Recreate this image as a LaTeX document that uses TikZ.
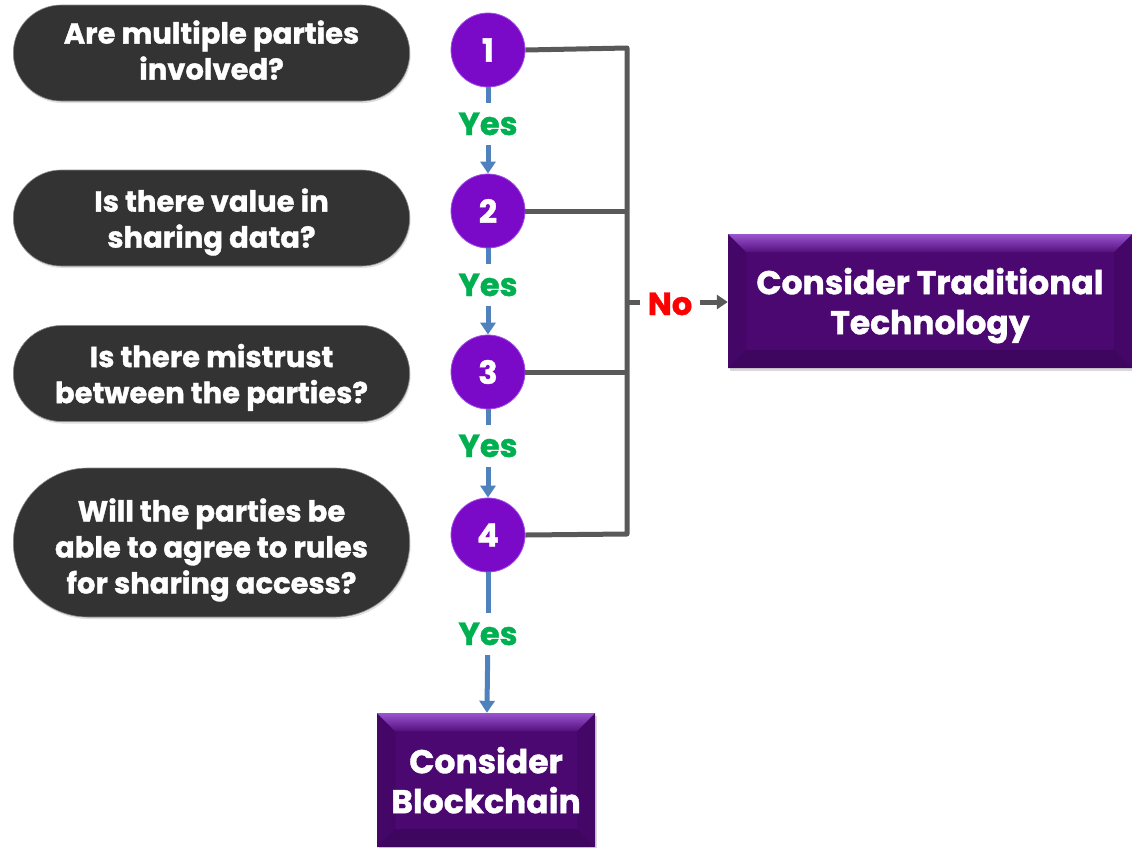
\documentclass[tikz,border=0pt]{standalone}
\usepackage{fontspec}
\setmainfont{Poppins}[BoldFeatures={FakeBold=1.2}]
\usetikzlibrary{arrows.meta,shapes.misc,shadows}
\definecolor{pillgray}{HTML}{333333}
\definecolor{pilledge}{HTML}{8A8A8A}
\definecolor{numpurple}{HTML}{7A0AC8}
\definecolor{numedge}{HTML}{A04DE6}
\definecolor{boxpurple}{HTML}{4A0870}
\definecolor{bevtop}{HTML}{9A55D0}
\definecolor{bevmid}{HTML}{55107E}
\definecolor{bevside}{HTML}{440667}
\definecolor{arrowblue}{HTML}{4F81BD}
\definecolor{linkgray}{HTML}{595959}
\definecolor{yesgreen}{HTML}{00B050}
\definecolor{nored}{HTML}{FF0000}
\begin{document}
\begin{tikzpicture}[x=1pt,y=-1pt,
  pill/.style={rounded rectangle, fill=pillgray, draw=pilledge, line width=0.6pt,
    text=white, minimum width=403pt, minimum height=#1, align=center,
    font=\bfseries\fontsize{29}{36}\selectfont, text depth=0pt,
    drop shadow={shadow xshift=1pt,shadow yshift=-2pt,opacity=0.25}},
  pill/.default=96pt,
  num/.style={circle, minimum size=74pt, inner sep=0pt, fill=numpurple, draw=numedge,
    line width=0.8pt, text=white, font=\bfseries\fontsize{32}{32}\selectfont},
  yes/.style={text=yesgreen, font=\bfseries\fontsize{32}{32}\selectfont,
    text height=22pt, text depth=0pt, inner ysep=10pt, inner xsep=2pt},
  blueline/.style={draw=arrowblue, line width=5pt},
  bluearrow/.style={blueline, -{Triangle[width=15pt,length=12pt]}},
  graylink/.style={draw=linkgray, line width=5pt},
  grayarrow/.style={graylink, -{Triangle[width=14pt,length=11pt]}},
  bevelbox/.style={rectangle, fill=boxpurple, text=white, align=center,
    font=\bfseries\fontsize{33}{40}\selectfont, text depth=0pt,
    drop shadow={shadow xshift=2pt,shadow yshift=-3pt,opacity=0.3},
    path picture={
      \fill[bevside] (path picture bounding box.north west) -- (path picture bounding box.south west)
        -- ([shift={(18pt,18pt)}]path picture bounding box.south west)
        -- ([shift={(18pt,-18pt)}]path picture bounding box.north west) -- cycle;
      \fill[bevside] (path picture bounding box.north east) -- (path picture bounding box.south east)
        -- ([shift={(-18pt,18pt)}]path picture bounding box.south east)
        -- ([shift={(-18pt,-18pt)}]path picture bounding box.north east) -- cycle;
      \shade[top color=bevtop, bottom color=bevmid] (path picture bounding box.north west)
        -- (path picture bounding box.north east)
        -- ([shift={(-18pt,-18pt)}]path picture bounding box.north east)
        -- ([shift={(18pt,-18pt)}]path picture bounding box.north west) -- cycle;
      \fill[bevside!92!black] (path picture bounding box.south west)
        -- (path picture bounding box.south east)
        -- ([shift={(-18pt,18pt)}]path picture bounding box.south east)
        -- ([shift={(18pt,18pt)}]path picture bounding box.south west) -- cycle;
    }}
]
\useasboundingbox (0,0) rectangle (1132,847);

% questions
\node[pill, text depth=6pt] (q1) at (211.5,53) {Are multiple parties\\involved?};
\node[pill] (q2) at (211.5,218) {Is there value in\\sharing data?};
\node[pill] (q3) at (211.5,373.5) {Is there mistrust\\between the parties?};
\node[pill=149pt] (q4) at (211.5,542.5) {\rule{0pt}{30pt}Will the parties be\\able to agree to rules\\for sharing access?};

% numbered circles
\node[num] (c1) at (488,50) {1};
\node[num] (c2) at (488,211) {2};
\node[num] (c3) at (488,372) {3};
\node[num] (c4) at (488,535) {4};

% outcome boxes
\node[bevelbox, minimum width=404pt, minimum height=134pt] (trad) at (930,301) {Consider Traditional\\Technology};
\node[bevelbox, minimum width=218pt, minimum height=134pt] (bc) at (486,780) {Consider\\Blockchain};

% yes labels
\node[yes] (y1) at (488,124) {Yes};
\node[yes] (y2) at (488,285) {Yes};
\node[yes] (y3) at (488,446) {Yes};
\node[yes] (y4) at (488,634) {Yes};

\draw[blueline] (c1) -- (y1);
\draw[bluearrow] (y1) -- (c2);
\draw[blueline] (c2) -- (y2);
\draw[bluearrow] (y2) -- (c3);
\draw[blueline] (c3) -- (y3);
\draw[bluearrow] (y3) -- (c4);
\draw[blueline] (c4) -- (y4);
\draw[bluearrow] (y4) -- (bc);

% no branch
\coordinate (bus) at (627,302);
\node[text=nored, font=\bfseries\fontsize{32}{32}\selectfont, text height=22pt, text depth=0pt, inner xsep=8pt] (no) at (670,304) {No};
\draw[graylink, line join=round] (c1.east) -- (627,48) -- (627,534) -- (c4.east);
\draw[graylink] (c2.east) -- (627,211);
\draw[graylink] (c3.east) -- (627,372);
\draw[graylink] (bus) -- (no.west |- bus);
\draw[grayarrow] (no.east |- bus) -- (trad.west |- bus);
\end{tikzpicture}
\end{document}
